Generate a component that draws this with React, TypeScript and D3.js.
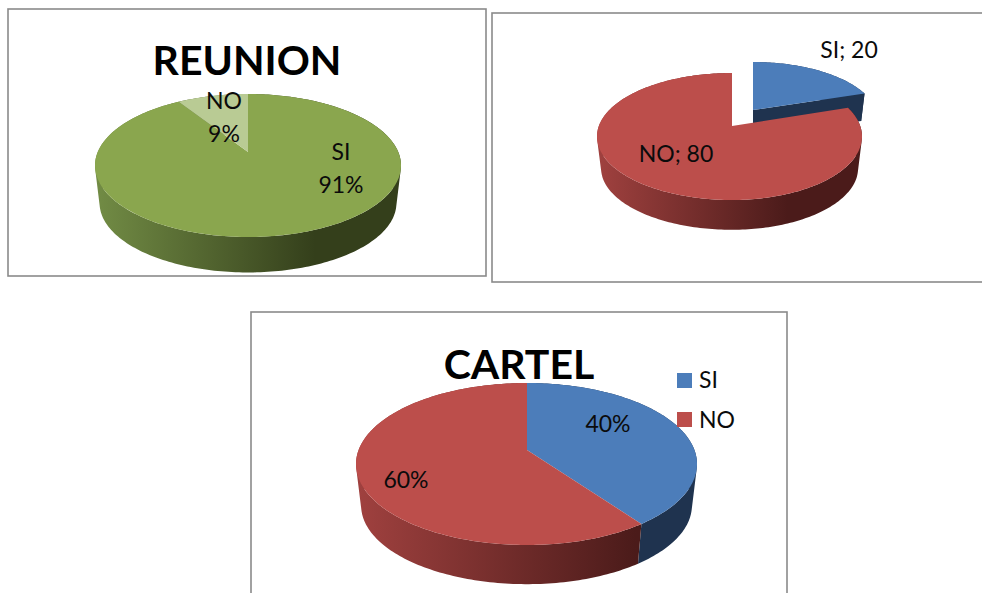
import React from "react";
import * as d3 from "d3";

// ---- data ----
const reunionCategories = ["SI", "NO"];
const reunionValues = [91, 9];
const elementCategories = ["SI", "NO"];
const elementValues = [20, 80];
const cartelCategories = ["SI", "NO"];
const cartelValues = [40, 60];

const FONT = "Lato, 'Open Sans', sans-serif";
const TEXT = "#0b0b0b";

type Geo = { tx: number; ty: number; top: number; bot: number; al: number; ar: number; depth: number; k: number };
type Pt = [number, number];

// perspective disc: maps a polar angle to a point of the projected rim
function rim(g: Geo, ang: number, lower = false): Pt {
  const T = g.top - g.ty;
  const B = g.bot - g.ty;
  const c = (-T - B) / (B - T);
  const a = -T * (1 - c);
  const u = Math.sin(ang);
  const v = -Math.cos(ang);
  const den = 1 + c * v;
  const scale = lower ? g.k : 1;
  const A = u < 0 ? g.al : g.ar;
  const x = g.tx + (scale * A * Math.sqrt(1 - c * c) * u) / den;
  const y = g.ty + (lower ? g.depth : 0) + (scale * a * v) / den;
  return [x, y];
}

const line = d3.line<Pt>();

function sweep(g: Geo, a0: number, a1: number, lower = false): Pt[] {
  const n = Math.max(2, Math.ceil(Math.abs(a1 - a0) / 0.02));
  return d3.range(n + 1).map((i) => rim(g, a0 + ((a1 - a0) * i) / n, lower));
}

function topPath(g: Geo, a0: number, a1: number) {
  return line([[g.tx, g.ty], ...sweep(g, a0, a1)]) + "Z";
}
// the wall is a run of quads between the upper and the lower rim, all wound
// the same way so that overlaps at the silhouette do not cancel out
function wallPath(g: Geo, a0: number, a1: number) {
  const up = sweep(g, a0, a1);
  const lo = sweep(g, a0, a1, true);
  return d3
    .range(up.length - 1)
    .map((i) => {
      const q: Pt[] = [up[i], up[i + 1], lo[i + 1], lo[i]];
      if (d3.polygonArea(q) < 0) q.reverse();
      return line(q) + "Z";
    })
    .join("");
}
function cutPath(g: Geo, a: number) {
  return line([[g.tx, g.ty], rim(g, a), rim(g, a, true), [g.tx, g.ty + g.depth]]) + "Z";
}

const BLUE = "#4c7dba";
const BLUE_WALL = "#1f334f";
const RED = "#bc4e4b";
const GREEN = "#8aa64e";
const GREEN_LIGHT = "#b9cb94";

function Grad({ id, x1, x2, from, to, at }: { id: string; x1: number; x2: number; from: string; to: string; at: number }) {
  return (
    <linearGradient id={id} gradientUnits="userSpaceOnUse" x1={x1} x2={x2} y1={0} y2={0}>
      <stop offset="0" stopColor={from} />
      <stop offset={at} stopColor={to} />
      <stop offset="1" stopColor={to} />
    </linearGradient>
  );
}

const Frame = ({ x, y, w, h }: { x: number; y: number; w: number; h: number }) => (
  <rect x={x} y={y} width={w} height={h} fill="#fff" stroke="#8a8a8a" strokeWidth={1.6} />
);

const Label = ({ x, y, lines, size = 23 }: { x: number; y: number; lines: string[]; size?: number }) => (
  <text x={x} y={y} textAnchor="middle" fontFamily={FONT} fontSize={size} fill={TEXT}>
    {lines.map((l, i) => (
      <tspan key={i} x={x} dy={i === 0 ? 0 : 33}>
        {l}
      </tspan>
    ))}
  </text>
);

const Title = ({ x, y, t }: { x: number; y: number; t: string }) => (
  <text x={x} y={y} textAnchor="middle" fontFamily={FONT} fontWeight={700} fontSize={41} fill="#000">
    {t}
  </text>
);

export default function App() {
  const pie = d3.pie<number>().sort(null).value((d) => d);

  const [rSi, rNo] = pie(reunionValues);
  const [eSi, eNo] = pie(elementValues);
  const [cSi, cNo] = pie(cartelValues);

  const g1: Geo = { tx: 248, ty: 152, top: 94, bot: 237, al: 153, ar: 153, depth: 38, k: 0.97 };
  const g2: Geo = { tx: 732, ty: 126, top: 73, bot: 200, al: 135, ar: 130, depth: 32, k: 0.97 };
  const g2b: Geo = { tx: 753, ty: 110, top: 62, bot: 177, al: 125, ar: 125, depth: 27, k: 0.97 };
  const g3: Geo = { tx: 527, ty: 450, top: 383, bot: 545, al: 171, ar: 170, depth: 42, k: 0.97 };

  return (
    <svg
      width={982}
      height={593}
      viewBox="0 0 982 593"
      style={{ position: "absolute", left: 0, top: 0, display: "block", background: "#fff" }}
    >
      <defs>
        <Grad id="wallG" x1={95} x2={401} from="#728c45" to="#343f1b" at={0.72} />
        <Grad id="wallR2" x1={597} x2={862} from="#a0413f" to="#4b1b1a" at={0.72} />
        <Grad id="wallR3" x1={356} x2={697} from="#a0413f" to="#4b1b1a" at={0.82} />
      </defs>

      {/* Chart 1 */}
      <Frame x={8} y={9} w={478} h={267} />
      <path d={wallPath(g1, rSi.startAngle, rNo.endAngle)} fill="url(#wallG)" />
      <path d={topPath(g1, rSi.startAngle, rSi.endAngle)} fill={GREEN} />
      <path d={topPath(g1, rNo.startAngle, rNo.endAngle)} fill={GREEN_LIGHT} />
      <Title x={247} y={75} t="REUNION" />
      <Label x={224} y={109} lines={[reunionCategories[1], `${reunionValues[1]}%`]} />
      <Label x={341} y={160} lines={[reunionCategories[0], `${reunionValues[0]}%`]} />

      {/* Chart 2 */}
      <Frame x={492} y={13} w={500} h={269} />
      <path d={wallPath(g2b, eSi.startAngle, eSi.endAngle)} fill={BLUE_WALL} />
      <path d={cutPath(g2b, eSi.endAngle)} fill={BLUE_WALL} />
      <path d={topPath(g2b, eSi.startAngle, eSi.endAngle)} fill={BLUE} />
      <path d={wallPath(g2, eNo.startAngle, eNo.endAngle)} fill="url(#wallR2)" />
      <path d={topPath(g2, eNo.startAngle, eNo.endAngle)} fill={RED} />
      <Label x={849} y={58} lines={[`${elementCategories[0]}; ${elementValues[0]}`]} />
      <Label x={676} y={162} lines={[`${elementCategories[1]}; ${elementValues[1]}`]} />

      {/* Chart 3 */}
      <Frame x={251} y={312} w={536} h={300} />
      <path d={wallPath(g3, cSi.startAngle, cSi.endAngle)} fill={BLUE_WALL} />
      <path d={wallPath(g3, cNo.startAngle, cNo.endAngle)} fill="url(#wallR3)" />
      <path d={topPath(g3, cSi.startAngle, cSi.endAngle)} fill={BLUE} />
      <path d={topPath(g3, cNo.startAngle, cNo.endAngle)} fill={RED} />
      <Title x={519} y={379} t="CARTEL" />
      <Label x={608} y={432} lines={[`${cartelValues[0]}%`]} />
      <Label x={406} y={488} lines={[`${cartelValues[1]}%`]} />
      <rect x={677} y={373} width={15} height={15} fill={BLUE} />
      <rect x={677} y={412} width={15} height={15} fill={RED} />
      <text x={699} y={388} fontFamily={FONT} fontSize={23} fill={TEXT}>{cartelCategories[0]}</text>
      <text x={699} y={428} fontFamily={FONT} fontSize={23} fill={TEXT}>{cartelCategories[1]}</text>
    </svg>
  );
}
